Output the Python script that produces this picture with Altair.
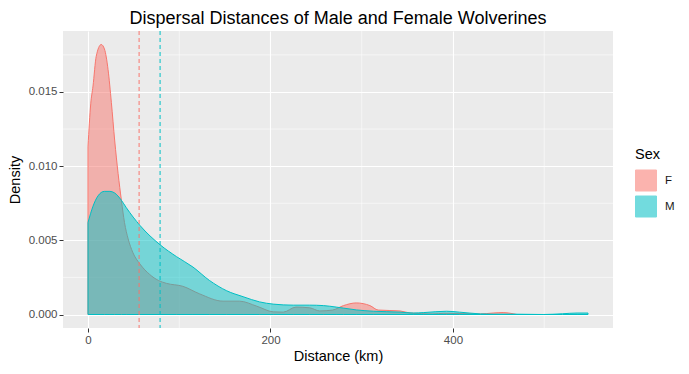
import altair as alt
import pandas as pd

# Female density curve (distance km, density)
f_dist = [0, 3, 5.5, 9, 14.5, 18, 22, 25.6, 29.3, 33, 36.6, 40, 44, 49, 57, 67.6, 77, 86,
          104, 122, 148, 166, 185, 203, 214, 228, 243, 254, 268, 280, 294, 309, 318, 342,
          353, 378, 390, 430, 444, 455, 466, 470]
f_dens = [0.0113, 0.0142, 0.0154, 0.0174, 0.0182, 0.0179, 0.0165, 0.0143, 0.0117, 0.0095,
          0.0077, 0.0062, 0.0051, 0.0042, 0.0034, 0.0027, 0.0023, 0.0021,
          0.0019, 0.0014, 0.0009, 0.0009, 0.00056, 0.00018, 0.00016, 0.0005, 0.00045,
          0.00024, 0.0003, 0.0006, 0.00078, 0.0006, 0.0003, 0.00024,
          0.0001, 0.00004, 0.00008, 0.00004, 0.0001, 0.00013, 0.00005, 0.0]

# Male density curve
m_dist = [0, 5.5, 11, 18, 24, 29, 36.6, 42, 57, 79, 97, 115, 133, 152, 170, 188, 203, 225,
          243, 258, 272, 280, 294, 313, 342, 357, 368, 393, 407, 430, 444, 469, 499, 520,
          536, 548]
m_dens = [0.0062, 0.0073, 0.0080, 0.0083, 0.0083, 0.0082, 0.0077, 0.0072, 0.0060, 0.0047,
          0.0039, 0.0032, 0.0023, 0.0016, 0.0012, 0.00085, 0.0007, 0.00063,
          0.00063, 0.0006, 0.0005, 0.00043, 0.00031, 0.00022, 0.00016, 0.0001, 0.00013,
          0.00022, 0.00016, 0.00004, 0.00002, 0.00002, 0.0, 0.00005,
          0.0001, 0.0001]

sexes = ["F", "M"]
mean_dist = [56, 79]
colors = ["#F8766D", "#00BFC4"]

x_ticks = [0, 200, 400]
x_minor = [100, 300, 500]
y_ticks = [0.0, 0.005, 0.010, 0.015]
y_minor = [0.0025, 0.0075, 0.0125, 0.0175]

x_domain = [-27.4, 575.4]
y_domain = [-0.00091, 0.01911]

df = pd.concat([
    pd.DataFrame({"distance": f_dist, "density": f_dens, "Sex": "F"}),
    pd.DataFrame({"distance": m_dist, "density": m_dens, "Sex": "M"}),
])
means = pd.DataFrame({"distance": mean_dist, "Sex": sexes})

xs = alt.Scale(domain=x_domain, nice=False, zero=False)
ys = alt.Scale(domain=y_domain, nice=False, zero=False)
xax = alt.Axis(values=x_ticks, title="Distance (km)")
yax = alt.Axis(values=y_ticks, title="Density", format=".3f")
cscale = alt.Scale(domain=sexes, range=colors)

vminor = alt.Chart(pd.DataFrame({"distance": x_minor})).mark_rule(
    color="white", strokeWidth=0.55
).encode(x=alt.X("distance:Q", scale=xs, axis=xax))

hminor = alt.Chart(pd.DataFrame({"density": y_minor})).mark_rule(
    color="white", strokeWidth=0.55
).encode(y=alt.Y("density:Q", scale=ys, axis=yax))

legend = alt.Legend(
    title="Sex", orient="none", legendX=572, legendY=117,
    symbolType="M-1,-1H1V1H-1Z M0,-1V1", symbolSize=441, symbolStrokeWidth=1,
    symbolOpacity=0.55, titleFontSize=14.5, labelFontSize=11.5, titleFontWeight="normal",
    titleColor="#000000", labelColor="#1A1A1A", titlePadding=7, rowPadding=0,
    labelOffset=8, titleFont="Liberation Sans", labelFont="Liberation Sans",
)

areas = alt.Chart(df).mark_area(
    fillOpacity=0.5, strokeWidth=1, interpolate="monotone", clip=True
).encode(
    x=alt.X("distance:Q", scale=xs, axis=xax),
    y=alt.Y("density:Q", scale=ys, axis=yax, stack=None),
    fill=alt.Fill("Sex:N", scale=cscale, legend=legend),
    stroke=alt.Stroke("Sex:N", scale=cscale, legend=legend),
)

vlines = alt.Chart(means).mark_rule(strokeDash=[4, 3], strokeWidth=1).encode(
    x=alt.X("distance:Q", scale=xs, axis=xax),
    stroke=alt.Stroke("Sex:N", scale=cscale, legend=None),
)

chart = alt.layer(vminor, hminor, areas, vlines).properties(
    width=550, height=297,
    title=alt.Title("Dispersal Distances of Male and Female Wolverines",
                    fontSize=18, font="Liberation Sans", fontWeight="normal",
                    color="#000000", anchor="middle", offset=3),
    autosize=alt.AutoSizeParams(type="none"),
    padding={"left": 55, "top": 23, "right": 68, "bottom": 38},
).configure_view(
    fill="#EBEBEB", strokeWidth=0
).configure_axis(
    domain=False, grid=True, gridColor="white", gridWidth=1.1,
    tickColor="#333333", tickSize=4, tickWidth=1,
    labelColor="#4D4D4D", labelFontSize=11.5, labelFont="Liberation Sans",
    titleFont="Liberation Sans", titleFontSize=14.5, titleFontWeight="normal",
    titleColor="#000000", labelPadding=2,
).configure_axisX(titlePadding=4).configure_axisY(titlePadding=6)

chart.save("out.html", embed_options={"renderer": "svg", "actions": False})
